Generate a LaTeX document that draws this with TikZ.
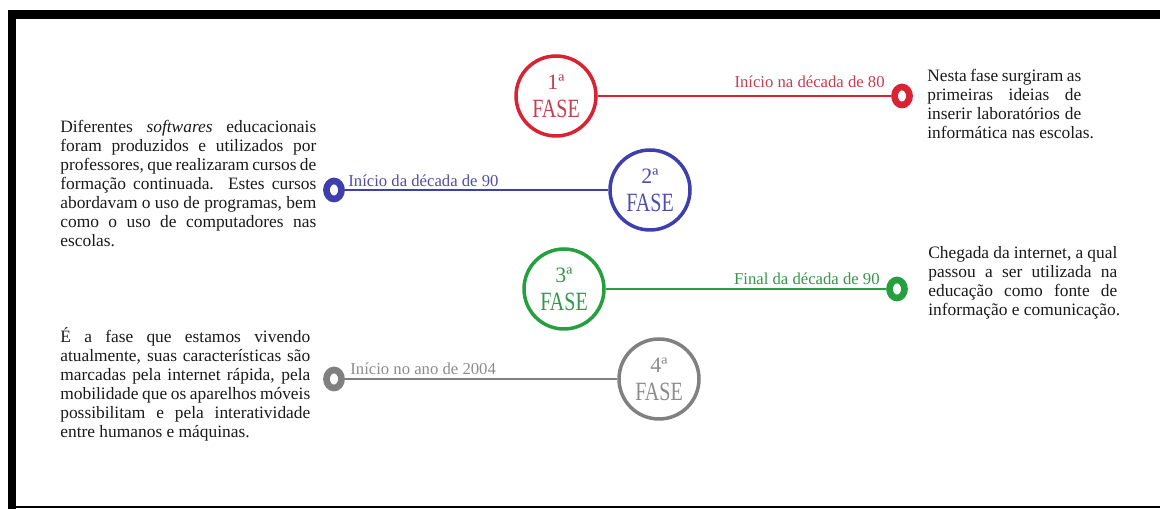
\documentclass[tikz,border=0pt]{standalone}
\usepackage{fontspec}
\setmainfont{Liberation Serif}
\usepackage{graphicx}
\usetikzlibrary{shapes.geometric}

\definecolor{fvermelho}{RGB}{218,35,50}
\definecolor{tvermelho}{RGB}{196,62,80}
\definecolor{fazul}{RGB}{62,62,172}
\definecolor{tazul}{RGB}{78,78,168}
\definecolor{fverde}{RGB}{38,160,62}
\definecolor{tverde}{RGB}{56,148,76}
\definecolor{fcinza}{RGB}{128,128,128}
\definecolor{tcinza}{RGB}{140,140,140}
\definecolor{texto}{RGB}{26,26,26}

\newcommand{\fasetxt}[1]{#1ª\\\scalebox{0.76}[1]{\fontsize{15}{15}\selectfont FASE}}

\begin{document}
\begin{tikzpicture}[x=0.02cm, y=-0.02cm,
    fase/.style={circle, draw, line width=2pt, minimum size=1.6cm, inner sep=0pt,
      align=center, font=\fontsize{12.5}{16}\selectfont},
    ponta/.style={ellipse, draw, line width=3.8pt, minimum width=0.3cm,
      minimum height=0.36cm, inner sep=0pt},
    linha/.style={line width=1.3pt},
    rotulo/.style={font=\fontsize{9.5}{11}\selectfont, inner sep=0pt},
    corpo/.style={font=\fontsize{9.9}{10.81}\selectfont, text=texto, align=justify,
      inner sep=0pt, anchor=base west,
      execute at begin node={\tolerance=10000\hyphenpenalty=10000}}]
  \useasboundingbox (0,0) rectangle (1160,509);
  % moldura
  \fill (8,10) rectangle (1160,19);
  \fill (8,10) rectangle (16,509);
  \draw[line width=1.2pt] (8,507) -- (1160,507);

  % 1a fase
  \node[fase, draw=fvermelho, text=tvermelho] (f1) at (556,96) {\fasetxt{1}};
  \node[ponta, draw=fvermelho] (p1) at (902,96) {};
  \draw[linha, fvermelho] (f1) -- (p1);
  \node[rotulo, text=tvermelho, anchor=base east] (r1) at (885,88) {Início na década de 80};
  \node[corpo, text width=3.08cm] (t1) at (927,82) {%
    Nesta fase surgiram as\linebreak
    primeiras ideias de\linebreak
    inserir laboratórios de\linebreak
    \mbox{informática nas escolas.}};

  % 2a fase
  \node[fase, draw=fazul, text=tazul] (f2) at (650,190) {\fasetxt{2}};
  \node[ponta, draw=fazul] (p2) at (334,190) {};
  \draw[linha, fazul] (p2) -- (f2);
  \node[rotulo, text=tazul, anchor=base west] (r2) at (348,187) {Início da década de 90};
  \node[corpo, text width=5.12cm] (t2) at (60,133) {%
    Diferentes \textit{softwares} educacionais\linebreak
    foram produzidos e utilizados por\linebreak
    professores, que realizaram cursos de\linebreak
    formação continuada. Estes cursos\linebreak
    abordavam o uso de programas, bem\linebreak
    como o uso de computadores nas\linebreak
    escolas.};

  % 3a fase
  \node[fase, draw=fverde, text=tverde] (f3) at (564,289) {\fasetxt{3}};
  \node[ponta, draw=fverde] (p3) at (897,289) {};
  \draw[linha, fverde] (f3) -- (p3);
  \node[rotulo, text=tverde, anchor=base east] (r3) at (880,285) {Final da década de 90};
  \node[corpo, text width=3.78cm] (t3) at (928,259) {%
    Chegada da internet, a qual\linebreak
    passou a ser utilizada na\linebreak
    educação como fonte de\linebreak
    \mbox{informação e comunicação.}};

  % 4a fase
  \node[fase, draw=fcinza, text=tcinza] (f4) at (659,379) {\fasetxt{4}};
  \node[ponta, draw=fcinza] (p4) at (334,379) {};
  \draw[linha, fcinza] (p4) -- (f4);
  \node[rotulo, text=tcinza, anchor=base west] (r4) at (350,375) {Início no ano de 2004};
  \node[corpo, text width=5.0cm] (t4) at (60,343) {%
    É a fase que estamos vivendo\linebreak
    atualmente, suas características são\linebreak
    marcadas pela internet rápida, pela\linebreak
    mobilidade que os aparelhos móveis\linebreak
    possibilitam e pela interatividade\linebreak
    entre humanos e máquinas.};
\end{tikzpicture}
\end{document}
